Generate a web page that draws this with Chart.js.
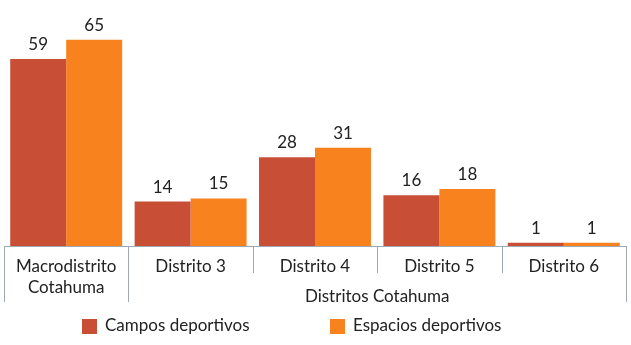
<!DOCTYPE html>
<html>
<head>
<meta charset="utf-8">
<script src="https://cdn.jsdelivr.net/npm/chart.js@4.4.0/dist/chart.umd.min.js"></script>
<style>
  html, body { margin: 0; padding: 0; background: #fff; }
  #wrap { width: 631px; height: 345px; position: relative; }
</style>
</head>
<body>
<div id="wrap"><canvas id="chart"></canvas></div>
<script>
// chart data
const categories = [['Macrodistrito', 'Cotahuma'], ['Distrito 3'], ['Distrito 4'], ['Distrito 5'], ['Distrito 6']];
const campos = [59, 14, 28, 16, 1];
const espacios = [65, 15, 31, 18, 1];
const groupLabel = 'Distritos Cotahuma';
const seriesNames = ['Campos deportivos', 'Espacios deportivos'];

const RED = '#C84F36';
const ORANGE = '#F8821E';
const FONT = '17px Lato, "Open Sans", sans-serif';

// value labels, category axis with group level, legend
const decorPlugin = {
    id: 'decor',
    afterDatasetsDraw(chart) {
        const ctx = chart.ctx;
        ctx.save();
        ctx.font = FONT;
        ctx.fillStyle = '#222';
        ctx.textAlign = 'center';
        ctx.textBaseline = 'bottom';
        chart.data.datasets.forEach((ds, i) => {
            chart.getDatasetMeta(i).data.forEach((bar, j) => {
                ctx.fillText(String(ds.data[j]), bar.x, bar.y - 6);
            });
        });
        ctx.restore();
    },
    afterDraw(chart) {
        const ctx = chart.ctx;
        const area = chart.chartArea;
        const x = chart.scales.x;
        const n = categories.length;
        const step = x.getPixelForValue(1) - x.getPixelForValue(0);
        const edge = i => x.getPixelForValue(i) - step / 2;
        ctx.save();
        ctx.strokeStyle = '#9DAAB6';
        ctx.lineWidth = 1;
        ctx.beginPath();
        ctx.moveTo(area.left, area.bottom + 0.5);
        ctx.lineTo(area.right, area.bottom + 0.5);
        for (let i = 0; i <= n; i++) {
            const px = Math.round(edge(i)) + 0.5;
            const long = (i === 0 || i === 1 || i === n);
            ctx.moveTo(px, area.bottom);
            ctx.lineTo(px, area.bottom + (long ? 56 : 27));
        }
        ctx.stroke();

        ctx.font = FONT;
        ctx.fillStyle = '#222';
        ctx.textAlign = 'center';
        ctx.textBaseline = 'middle';
        categories.forEach((lines, i) => {
            lines.forEach((t, k) => {
                ctx.fillText(t, x.getPixelForValue(i), area.bottom + 21 + k * 21);
            });
        });
        ctx.fillText(groupLabel, (edge(1) + edge(n)) / 2, area.bottom + 51);

        // legend
        const ly = 326;
        const items = [[RED, seriesNames[0], 82], [ORANGE, seriesNames[1], 330]];
        ctx.textAlign = 'left';
        items.forEach(([c, t, lx]) => {
            ctx.fillStyle = c;
            ctx.fillRect(lx, ly - 7, 15, 15);
            ctx.fillStyle = '#222';
            ctx.fillText(t, lx + 23, ly);
        });
        ctx.restore();
    }
};

new Chart(document.getElementById('chart'), {
    type: 'bar',
    data: {
        labels: categories,
        datasets: [
            {
                label: seriesNames[0],
                data: campos,
                backgroundColor: RED,
                categoryPercentage: 0.9,
                barPercentage: 1.0
            },
            {
                label: seriesNames[1],
                data: espacios,
                backgroundColor: ORANGE,
                categoryPercentage: 0.9,
                barPercentage: 1.0
            }
        ]
    },
    options: {
        responsive: true,
        maintainAspectRatio: false,
        animation: false,
        layout: {
            padding: { left: 4, right: 5, top: 24, bottom: 99 }
        },
        plugins: {
            legend: { display: false },
            tooltip: { enabled: false }
        },
        scales: {
            x: { display: false },
            y: { display: false, min: 0, max: 70 }
        }
    },
    plugins: [decorPlugin]
});
</script>
</body>
</html>
